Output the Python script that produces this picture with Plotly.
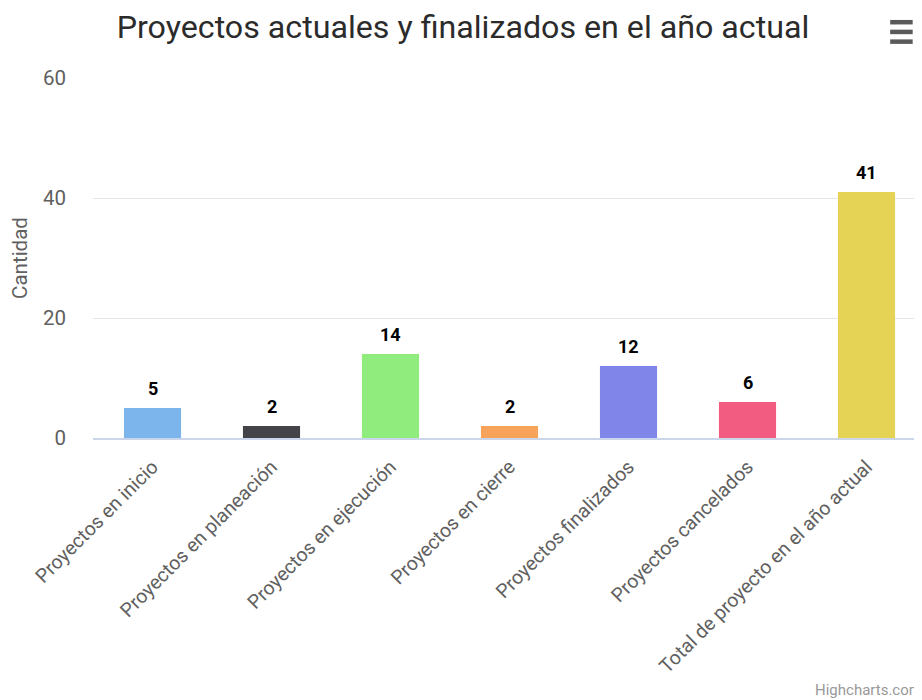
import plotly.graph_objects as go

categories = [
    "Proyectos en inicio",
    "Proyectos en planeación",
    "Proyectos en ejecución",
    "Proyectos en cierre",
    "Proyectos finalizados",
    "Proyectos cancelados",
    "Total de proyecto en el año actual",
]
values = [5, 2, 14, 2, 12, 6, 41]
colors = ["#7cb5ec", "#434348", "#90ed7d", "#f7a35c", "#8085e9", "#f15c80", "#e4d354"]
y_ticks = [0, 20, 40, 60]

fig = go.Figure(
    go.Bar(
        x=categories,
        y=values,
        marker=dict(color=colors, line=dict(width=0)),
        cliponaxis=False,
        hoverinfo="x+y",
    )
)

label_annotations = [
    dict(
        x=c, y=v, xref="x", yref="y",
        text=str(v), showarrow=False,
        xanchor="center", yanchor="bottom", yshift=7,
        font=dict(family="Roboto", size=18, color="#000000", weight="bold"),
    )
    for c, v in zip(categories, values)
]

fig.update_layout(
    width=922,
    height=692,
    margin=dict(l=85, r=4, t=70, b=262, autoexpand=False),
    paper_bgcolor="white",
    plot_bgcolor="white",
    bargap=0.52,
    showlegend=False,
    font=dict(family="Roboto", color="#666666"),
    title=dict(
        text="Proyectos actuales y finalizados en el año actual",
        x=0.4935,
        xanchor="center",
        y=0.9725,
        yanchor="middle",
        font=dict(family="Roboto", size=32.2, color="#2b2b2b"),
    ),
    xaxis=dict(
        automargin=False,
        tickangle=-45,
        tickfont=dict(family="Roboto", size=19.5, color="#606060"),
        showline=True,
        linecolor="#ccd6eb",
        linewidth=1.5,
        ticks="",
        ticklabelstandoff=8,
        showgrid=False,
    ),
    yaxis=dict(
        automargin=False,
        range=[0, 60],
        tickvals=y_ticks,
        tickfont=dict(family="Roboto", size=20.5, color="#606060"),
        showgrid=True,
        gridcolor="#e6e6e6",
        gridwidth=1,
        zeroline=False,
        ticks="",
        ticklabelstandoff=26,
        title=dict(
            text="Cantidad",
            font=dict(family="Roboto", size=20.5, color="#606060"),
            standoff=9,
        ),
    ),
    shapes=[
        dict(type="line", xref="paper", yref="paper",
             x0=0.957, x1=0.984, y0=y, y1=y,
             line=dict(color="#5a5a5a", width=4.5))
        for y in (1.155, 1.128, 1.101)
    ],
    annotations=label_annotations + [
        dict(
            text="Highcharts.com",
            xref="paper",
            yref="paper",
            x=0.997,
            y=-0.7,
            xanchor="right",
            yanchor="middle",
            showarrow=False,
            font=dict(family="Roboto", size=15, color="#999999"),
        )
    ],
)

fig.write_html("out.html")
